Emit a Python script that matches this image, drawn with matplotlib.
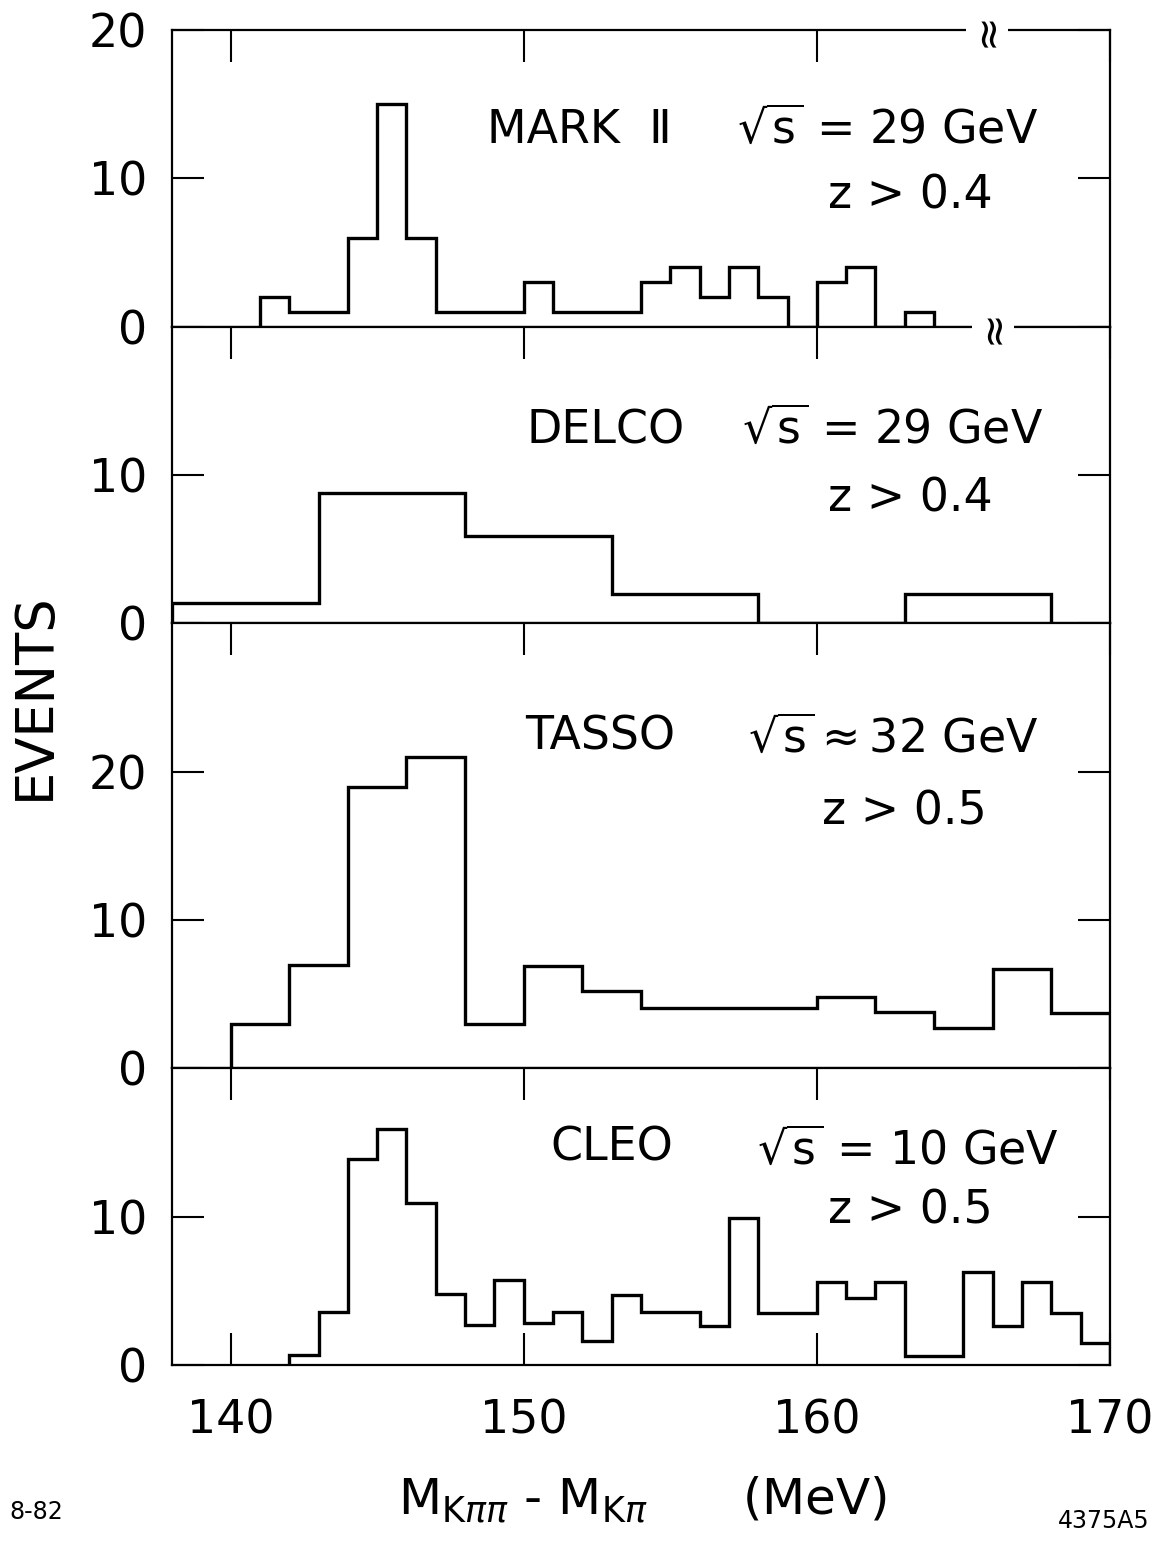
import numpy as np
import matplotlib
matplotlib.use("Agg")
import matplotlib.pyplot as plt

plt.rcParams['font.family'] = ['DejaVu Sans']
plt.rcParams['mathtext.fontset'] = 'dejavusans'

# MARK II, 1 MeV bins from 141 to 164
mark_edges = np.arange(141, 165)
mark_counts = [2, 1, 1, 6, 15, 6, 1, 1, 1, 3, 1, 1, 1, 3, 4, 2, 4, 2, 0, 3, 4, 0, 1]

# DELCO, 5 MeV bins
delco_edges = [138, 143, 148, 153, 158, 163, 168]
delco_counts = [1.4, 8.8, 5.9, 2.0, 0, 2.0]

# TASSO, 2 MeV bins
tasso_edges = np.arange(140, 171, 2)
tasso_counts = [3, 7, 19, 21, 3, 6.9, 5.2, 4.1, 4.1, 4.1, 4.8, 3.8, 2.7, 6.7, 3.7]

# CLEO, 1 MeV bins
cleo_edges = np.arange(142, 171)
cleo_counts = [0.7, 3.6, 13.9, 15.9, 10.9, 4.8, 2.7, 5.7, 2.8, 3.6, 1.6, 4.7,
               3.6, 3.6, 2.6, 9.9, 3.5, 3.5, 5.6, 4.5, 5.6, 0.6, 0.6, 6.3,
               2.6, 5.6, 3.5, 1.5]

panels = [
    ("MARK  Ⅱ", r"$\sqrt{\mathrm{s}}$ = 29 GeV", "z > 0.4", mark_edges, mark_counts, 20, [0, 10, 20]),
    ("DELCO", r"$\sqrt{\mathrm{s}}$ = 29 GeV", "z > 0.4", delco_edges, delco_counts, 20, [0, 10]),
    ("TASSO", r"$\sqrt{\mathrm{s}}\approx$32 GeV", "z > 0.5", tasso_edges, tasso_counts, 30, [0, 10, 20]),
    ("CLEO", r"$\sqrt{\mathrm{s}}$ = 10 GeV", "z > 0.5", cleo_edges, cleo_counts, 20, [0, 10]),
]

# label positions (data x, fraction of panel height)
name_pos = [(151.9, 0.66), (152.8, 0.65), (152.6, 0.745), (153.0, 0.73)]
sqrt_pos = [(162.4, 0.66), (162.6, 0.65), (162.6, 0.74), (163.1, 0.72)]
z_pos = [(163.2, 0.44), (163.2, 0.42), (163.0, 0.575), (163.2, 0.52)]

fig = plt.figure(figsize=(11.58, 15.41), dpi=100)
gs = fig.add_gridspec(4, 1, height_ratios=[20, 20, 30, 20], hspace=0,
                      left=0.1485, right=0.9585, top=0.9805, bottom=0.1142)

fs = 33
axes = []
for i, (name, sq, zc, edges, counts, ymax, yt) in enumerate(panels):
    ax = fig.add_subplot(gs[i])
    axes.append(ax)
    ax.stairs(counts, edges, baseline=0, color='black', lw=2.4)
    ax.set_xlim(138, 170)
    ax.set_ylim(0, ymax)
    ax.set_yticks(yt)
    ax.set_yticklabels([str(v) for v in yt], fontsize=fs)
    ax.set_xticks([140, 150, 160, 170])
    last = i == len(panels) - 1
    ax.tick_params(axis='both', direction='in', length=23, width=1.5,
                   top=True, right=True, bottom=last, labelbottom=last,
                   pad=18, labelsize=fs)
    ax.tick_params(axis='x', pad=24)
    for s in ax.spines.values():
        s.set_linewidth(1.6)
    ax.text(name_pos[i][0], name_pos[i][1] * ymax, name, fontsize=fs,
            ha='center', va='center')
    ax.text(sqrt_pos[i][0], sqrt_pos[i][1] * ymax, sq, fontsize=fs,
            ha='center', va='center')
    ax.text(z_pos[i][0], z_pos[i][1] * ymax, zc, fontsize=fs,
            ha='center', va='center')

# axis break marks on the MARK II panel (figure-level so they sit on top)
for xb, yb in ((165.8, 20), (166.0, 0)):
    fig.text(xb, yb, "≈", rotation=90, fontsize=30, ha='center',
             va='center', transform=axes[0].transData,
             bbox=dict(facecolor='white', edgecolor='none', pad=0.0))

fig.text(0.03, 0.548, "EVENTS", rotation=90, fontsize=38, ha='center', va='center')
fig.text(0.555, 0.027, r"$\mathrm{M}_{\mathrm{K}\pi\pi}$ - $\mathrm{M}_{\mathrm{K}\pi}$      (MeV)",
         fontsize=36, ha='center', va='center')
fig.text(0.008, 0.019, "8-82", fontsize=17, ha='left', va='center')
fig.text(0.993, 0.013, "4375A5", fontsize=17, ha='right', va='center')

fig.savefig("out.png", dpi=100)
